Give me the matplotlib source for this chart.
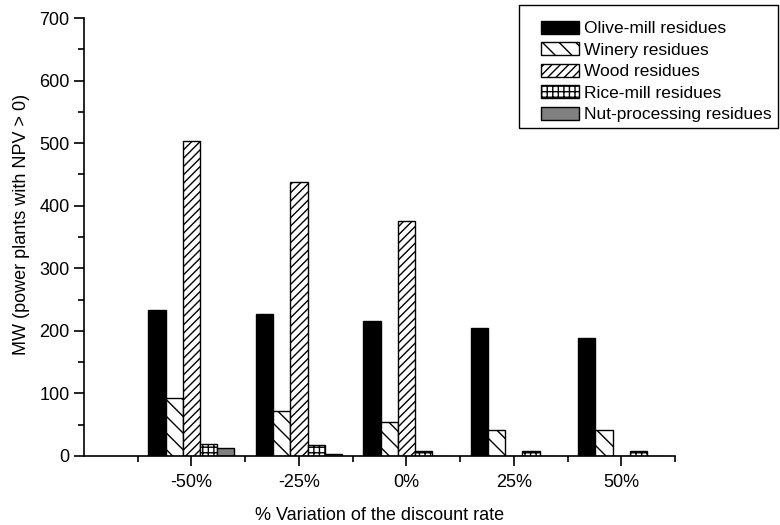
import matplotlib
matplotlib.use("Agg")
import matplotlib.pyplot as plt
import numpy as np
from matplotlib.ticker import MultipleLocator, FixedLocator
from matplotlib.patches import Rectangle

plt.rcParams['font.family'] = ['Liberation Sans', 'DejaVu Sans']
plt.rcParams['hatch.linewidth'] = 1.0

categories = ["-50%", "-25%", "0%", "25%", "50%"]
olive = [233, 227, 216, 205, 188]
winery = [92, 72, 54, 42, 42]
wood = [504, 438, 375, 0, 0]
rice = [19, 18, 8, 8, 8]
nut = [13, 3, 0, 0, 0]

series = [
    ("Olive-mill residues", olive, "black", None),
    ("Winery residues", winery, "white", "\\\\"),
    ("Wood residues", wood, "white", "////"),
    ("Rice-mill residues", rice, "white", "+++"),
    ("Nut-processing residues", nut, "#808080", None),
]

W, H = 780, 525
fig = plt.figure(figsize=(W/100, H/100), dpi=100)
ax = fig.add_axes([84/W, 1-456/H, (675-84)/W, (456-18)/H])

x = np.arange(1, len(categories)+1)
w = 0.16
for i, (name, vals, fc, hatch) in enumerate(series):
    ax.bar(x + (i-2)*w, vals, width=w, color=fc, edgecolor="black",
           hatch=hatch, linewidth=1.0, label=name)

ax.set_xlim(0, 5.5)
ax.set_ylim(0, 700)
ax.set_xticks(x)
ax.set_xticklabels(categories)
ax.xaxis.set_minor_locator(FixedLocator([0.5, 1.5, 2.5, 3.5, 4.5, 5.5]))
ax.yaxis.set_major_locator(MultipleLocator(100))
ax.yaxis.set_minor_locator(MultipleLocator(50))
ax.tick_params(axis='both', which='major', direction='out', length=7, width=1.2, labelsize=13)
ax.tick_params(axis='x', which='major', pad=6)
ax.tick_params(axis='both', which='minor', direction='out', length=4, width=1.2)
for s in ['top', 'right']:
    ax.spines[s].set_visible(False)
for s in ['left', 'bottom']:
    ax.spines[s].set_linewidth(1.2)

ax.set_xlabel("% Variation of the discount rate", fontsize=13, labelpad=11.5)
ax.set_ylabel("MW (power plants with NPV > 0)", fontsize=13)
ax.yaxis.set_label_coords((30-84)/591, (456-224)/438)

leg = ax.legend(loc='upper left', bbox_to_anchor=(541/W, 1-21/H),
                bbox_transform=fig.transFigure, borderaxespad=0, borderpad=0,
                fontsize=12.5, frameon=False,
                handlelength=2.2, handleheight=0.75, labelspacing=0.35,
                handletextpad=0.3)
fig.patches.append(Rectangle((519/W, 1-128/H), 259/W, 123/H, transform=fig.transFigure,
                             fill=False, edgecolor='black', linewidth=1.0))

fig.savefig("out.png", dpi=100)
